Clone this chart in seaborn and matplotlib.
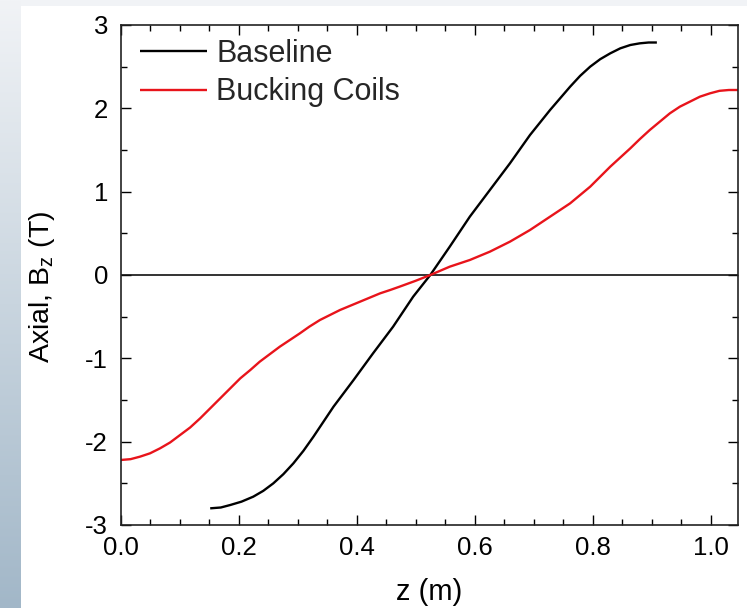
import numpy as np
import pandas as pd
import matplotlib
matplotlib.use("Agg")
import matplotlib.pyplot as plt
import seaborn as sns
from matplotlib.ticker import MultipleLocator
from matplotlib.colors import LinearSegmentedColormap

# ---- data ----
baseline_z = [0.152, 0.170, 0.186, 0.205, 0.225, 0.242, 0.259, 0.276, 0.293, 0.310,
              0.327, 0.344, 0.361, 0.378, 0.395, 0.428, 0.462, 0.496, 0.525, 0.558,
              0.575, 0.592, 0.609, 0.626, 0.643, 0.660, 0.677, 0.694, 0.711, 0.728,
              0.745, 0.762, 0.779, 0.796, 0.813, 0.830, 0.847, 0.864, 0.880, 0.895,
              0.909]
baseline_bz = [-2.80, -2.79, -2.76, -2.72, -2.66, -2.59, -2.50, -2.39, -2.26, -2.11,
               -1.94, -1.76, -1.58, -1.42, -1.26, -0.94, -0.62, -0.26, 0.00, 0.34,
               0.52, 0.70, 0.86, 1.02, 1.18, 1.34, 1.51, 1.68, 1.83, 1.98,
               2.12, 2.26, 2.39, 2.50, 2.59, 2.66, 2.72, 2.76, 2.78, 2.79,
               2.79]
bucking_z = [0.0, 0.017, 0.033, 0.050, 0.067, 0.084, 0.101, 0.118, 0.135, 0.152,
             0.169, 0.186, 0.203, 0.220, 0.236, 0.253, 0.270, 0.287, 0.304, 0.320,
             0.338, 0.355, 0.372, 0.389, 0.406, 0.423, 0.440, 0.457, 0.473, 0.500,
             0.525, 0.558, 0.575, 0.592, 0.609, 0.626, 0.643, 0.660, 0.677, 0.694,
             0.711, 0.728, 0.745, 0.762, 0.779, 0.796, 0.813, 0.830, 0.847, 0.864,
             0.880, 0.897, 0.914, 0.931, 0.948, 0.965, 0.982, 0.999, 1.015, 1.031,
             1.047]
bucking_bz = [-2.22, -2.21, -2.18, -2.14, -2.08, -2.01, -1.92, -1.83, -1.72, -1.60,
              -1.48, -1.36, -1.24, -1.14, -1.04, -0.95, -0.86, -0.78, -0.70, -0.62,
              -0.54, -0.48, -0.42, -0.37, -0.32, -0.27, -0.22, -0.18, -0.14, -0.07,
              0.00, 0.10, 0.14, 0.18, 0.23, 0.28, 0.34, 0.40, 0.47, 0.54,
              0.62, 0.70, 0.78, 0.86, 0.96, 1.06, 1.18, 1.30, 1.41, 1.52,
              1.63, 1.74, 1.84, 1.94, 2.02, 2.08, 2.14, 2.18, 2.21, 2.22,
              2.22]
series_names = ["Baseline", "Bucking Coils"]
x_ticks = [0.0, 0.2, 0.4, 0.6, 0.8, 1.0]
y_ticks = [-3, -2, -1, 0, 1, 2, 3]

df = pd.concat([
    pd.DataFrame({"z": baseline_z, "Bz": baseline_bz, "series": series_names[0]}),
    pd.DataFrame({"z": bucking_z, "Bz": bucking_bz, "series": series_names[1]}),
], ignore_index=True)

sns.set_theme(style="ticks")
plt.rcParams["font.family"] = ["Liberation Sans", "DejaVu Sans"]
plt.rcParams["mathtext.fontset"] = "custom"
plt.rcParams["mathtext.rm"] = "Liberation Sans"
plt.rcParams["mathtext.it"] = "Liberation Sans"

fig = plt.figure(figsize=(7.47, 6.08), dpi=100)
fig.patch.set_facecolor("white")

# background decoration: top strip and left gradient strip
top = fig.add_axes([0, 1 - 6 / 608, 1, 6 / 608])
top.set_axis_off()
top.add_patch(plt.Rectangle((0, 0), 1, 1, color="#f1f3f6", transform=top.transAxes))
left = fig.add_axes([0, 0, 21 / 747, 1])
cmap = LinearSegmentedColormap.from_list("g", ["#f1f3f6", "#c9d5df", "#a2b7c8"])
left.imshow(np.linspace(0, 1, 256).reshape(-1, 1), aspect="auto", cmap=cmap,
            extent=[0, 1, 1, 0])
left.set_axis_off()

ax = fig.add_axes([120.5 / 747, 83 / 608, 617.8 / 747, 500 / 608])
ax.set_facecolor("white")

sns.lineplot(data=df, x="z", y="Bz", hue="series", hue_order=series_names,
             palette=["black", "#e8141b"], linewidth=1.7, ax=ax, sort=False,
             estimator=None, legend=True)
for ln in ax.get_lines():
    ln.set_solid_joinstyle("round")
    ln.set_solid_capstyle("butt")
ax.axhline(0, color="#111111", linewidth=1.2, zorder=1)

ax.set_xlim(0, 1.047)
ax.set_ylim(-3, 3)
ax.set_xticks(x_ticks)
ax.set_xticklabels([f"{t:.1f}" for t in x_ticks])
ax.set_yticks(y_ticks)
ax.set_yticklabels([str(t) for t in y_ticks])
ax.xaxis.set_minor_locator(MultipleLocator(0.05))
ax.yaxis.set_minor_locator(MultipleLocator(0.5))
ax.tick_params(which="both", direction="in", top=True, right=True,
               color="black", width=1.0)
ax.tick_params(which="major", length=7, labelsize=18.5, labelcolor="black")
ax.tick_params(axis="x", which="major", pad=8)
ax.tick_params(axis="y", which="major", pad=9)
ax.tick_params(which="minor", length=4)
for s in ax.spines.values():
    s.set_color("#222222")
    s.set_linewidth(1.2)

ax.set_xlabel("z (m)", fontsize=21, labelpad=13, color="black")
ax.set_ylabel("Axial, B$_z$ (T)", fontsize=20.5, labelpad=20, color="black")
ax.yaxis.label.set_y(0.476)

leg = ax.legend(loc="upper left", bbox_to_anchor=(0.031, 0.972), frameon=False,
                fontsize=22, handlelength=2.2, handletextpad=0.3,
                labelspacing=0.27, borderpad=0, borderaxespad=0)
for h in leg.get_lines():
    h.set_linewidth(1.7)

fig.savefig("out.png", dpi=100)
